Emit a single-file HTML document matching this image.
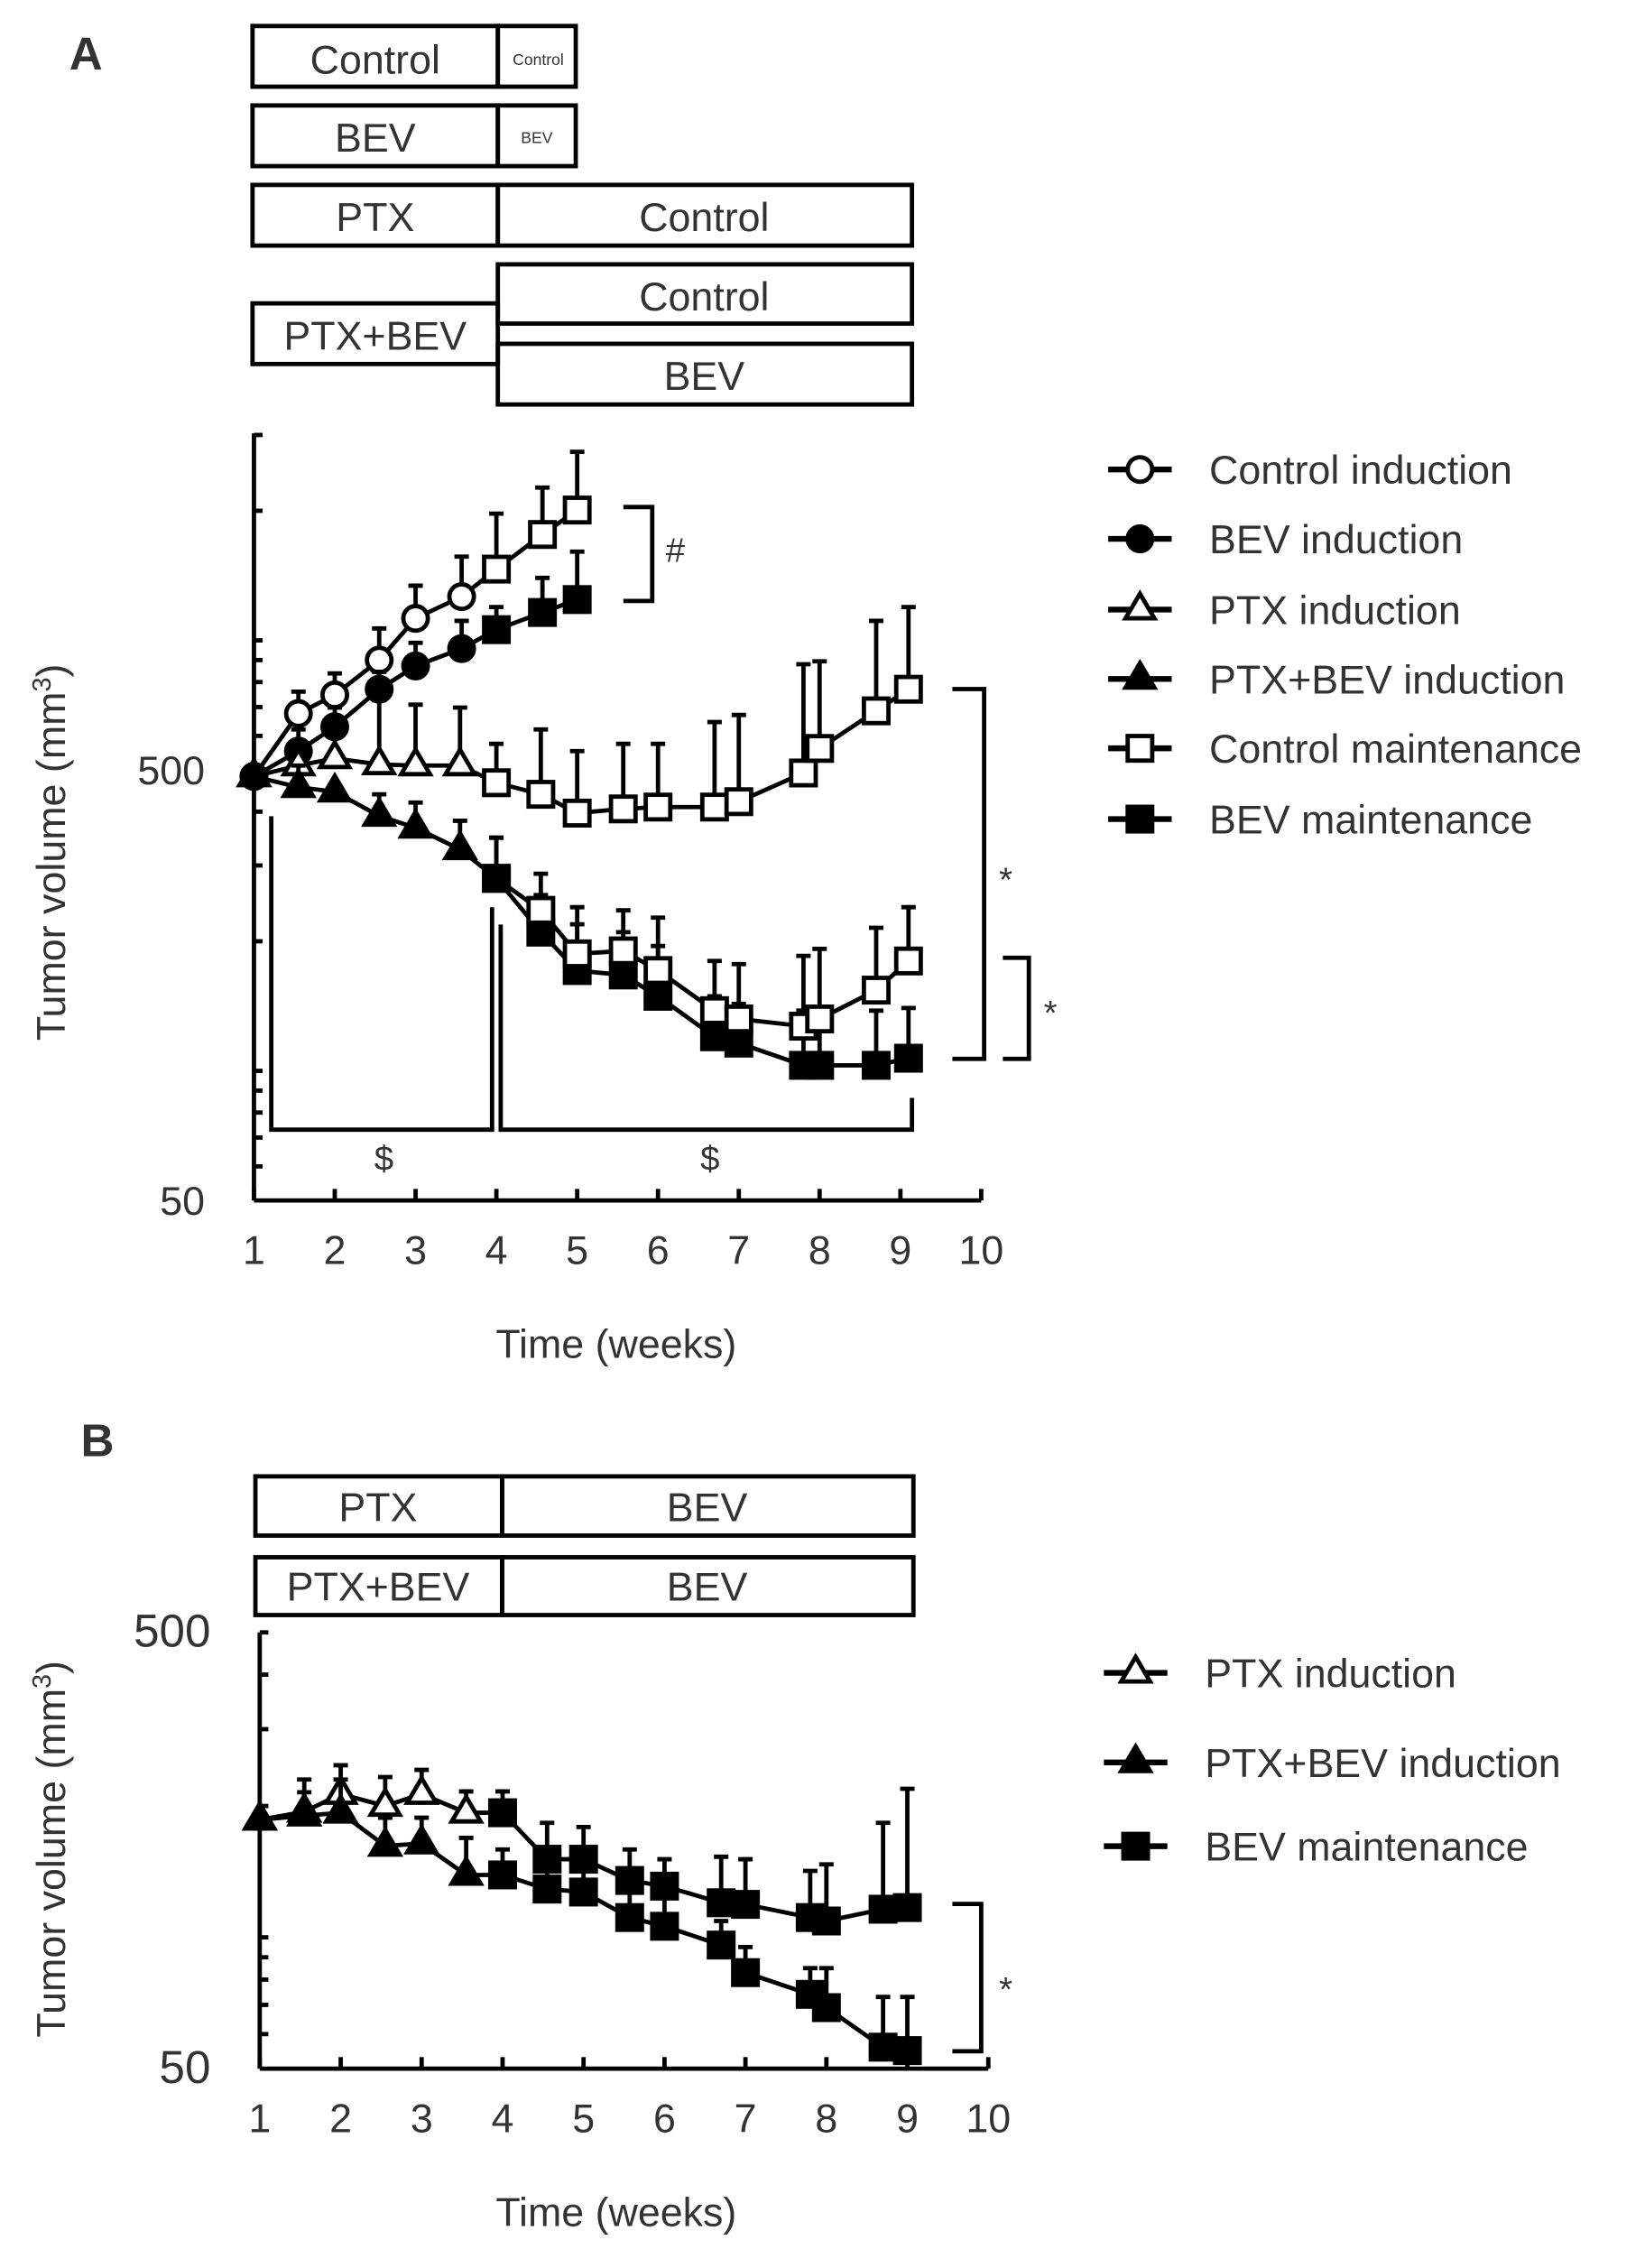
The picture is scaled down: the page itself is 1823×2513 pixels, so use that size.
<!DOCTYPE html>
<html><head><meta charset="utf-8"><style>
html,body{margin:0;padding:0;background:#fff;}
svg{display:block;}
text{font-family:"Liberation Sans",sans-serif;fill:#333;}
</style></head><body>
<svg id="fig" width="1823" height="2513" viewBox="0 0 1140 1570" preserveAspectRatio="none" xmlns="http://www.w3.org/2000/svg">
<g stroke="#000" stroke-width="3" fill="none">
<rect x="175" y="18" width="170" height="42"/><rect x="345" y="18" width="54" height="42"/>
<rect x="175" y="73" width="170" height="42"/><rect x="345" y="73" width="54" height="42"/>
<rect x="175" y="128" width="170" height="42"/><rect x="345" y="128" width="287" height="42"/>
<rect x="345" y="183" width="287" height="41"/><rect x="175" y="210" width="170" height="42"/>
<rect x="345" y="238" width="287" height="42"/>
</g>
<g font-size="28" text-anchor="middle">
<text x="260" y="51">Control</text><text x="373" y="45" font-size="11">Control</text>
<text x="260" y="105">BEV</text><text x="372" y="99" font-size="11">BEV</text>
<text x="260" y="160">PTX</text><text x="488" y="160">Control</text>
<text x="488" y="215">Control</text><text x="260" y="242">PTX+BEV</text>
<text x="488" y="270">BEV</text>
</g>
<text x="48" y="48" font-size="32" font-weight="bold">A</text>
<text x="56" y="1008" font-size="32" font-weight="bold">B</text>
<g stroke="#000" stroke-width="3" fill="none">
<rect x="177" y="1022" width="171" height="41"/><rect x="348" y="1022" width="285" height="41"/>
<rect x="177" y="1078" width="171" height="40"/><rect x="348" y="1078" width="285" height="40"/>
</g>
<g font-size="28" text-anchor="middle">
<text x="262" y="1053">PTX</text><text x="490" y="1053">BEV</text>
<text x="262" y="1108">PTX+BEV</text><text x="490" y="1108">BEV</text>
</g>
<g id="chartA"></g><g id="chartB"></g>
</svg>
<script>
// ---- Panel A data ----
const aCtrlIndX=[1,1.55,2,2.55,3,3.57,4,4.57,5];
const aCtrlIndV=[483,676,747,900,1125,1264,1464,1762,2008];
const aCtrlIndUp=[null,760,838,1066,1340,1565,1970,2264,2742];
const aCtrlIndM=['oc','oc','oc','oc','oc','oc','os','os','os'];
const aBevIndX=[1,1.55,2,2.55,3,3.57,4,4.57,5];
const aBevIndV=[483,553,630,770,872,957,1059,1161,1244];
const aBevIndUp=[null,621,698,845,987,1110,1195,1397,1607];
const aBevIndM=['fc','fc','fc','fc','fc','fc','fs','fs','fs'];
const aPtxIndX=[1,1.55,2,2.55,3,3.55,4,4.55,5,5.57,6,6.7,7,7.8,8,8.7,9.1];
const aPtxIndV=[483,512,532,515,512,512,467,439,397,406,410,410,422,492,561,686,770];
const aPtxIndUp=[null,575,646,726,709,698,575,621,553,575,575,646,671,880,894,1110,1195];
const aPtxIndM=['ot','ot','ot','ot','ot','ot','os','os','os','os','os','os','os','os','os','os','os'];
const aPbIndX=[1,1.55,2,2.55,3,3.55,4,4.55,5,5.57,6,6.7,7,7.8,8,8.7,9.1];
const aPbIndV=[483,456,445,391,367,327,280,236,187,190,171,138,132,127,132,154,180];
const aPbIndUp=[null,512,null,439,420,381,348,287,240,236,227,180,177,185,192,215,240];
const aPbIndM=['ft','ft','ft','ft','ft','ft','fs','os','os','os','os','os','os','os','os','os','os'];
const aBevMX=[4,4.55,5,5.57,6,6.7,7,7.8,8,8.7,9.1];
const aBevMV=[280,210,171,167,149,120,116,103,103,103,107];
const aBevMUp=[348,256,219,210,195,149,143,138,138,138,140];
const aBevMM=['fs','fs','fs','fs','fs','fs','fs','fs','fs','fs','fs'];
const xTicks=[1,2,3,4,5,6,7,8,9,10];
const aLegend=['Control induction','BEV induction','PTX induction','PTX+BEV induction','Control maintenance','BEV maintenance'];
const aLegendM=['oc','fc','ot','ft','os','fs'];
// ---- Panel B data ----
const bPtxX=[1,1.55,2,2.55,3,3.55,4,4.55,5,5.57,6,6.7,7,7.8,8,8.7,9];
const bPtxV=[186,194,213,200,213,193,193,151,151,135,131,120,119,111,109,116,117];
const bPtxUp=[null,230,248,233,242,216,216,183,179,159,151,153,151,142,147,183,219];
const bPtxM=['ot','ot','ot','ot','ot','ot','fs','fs','fs','fs','fs','fs','fs','fs','fs','fs','fs'];
const bPbX=[1,1.55,2,2.55,3,3.55,4,4.55,5,5.57,6,6.7,7,7.8,8,8.7,9];
const bPbV=[186,190,193,162,164,139,139,129,127,111,106,96,83,74,69,56,55];
const bPbUp=[null,215,230,188,188,169,159,147,142,132,125,109,95,85,85,73,73];
const bPbM=['ft','ft','ft','ft','ft','ft','fs','fs','fs','fs','fs','fs','fs','fs','fs','fs','fs'];
const bLegend=['PTX induction','PTX+BEV induction','BEV maintenance'];
const bLegendM=['ot','ft','fs'];

const NS='http://www.w3.org/2000/svg';
function mk(parent,tag,attrs,txt){const e=document.createElementNS(NS,tag);for(const k in attrs)e.setAttribute(k,attrs[k]);if(txt!==undefined)e.textContent=txt;parent.appendChild(e);return e;}
function marker(g,type,x,y){
  const fill=type[0]==='f'?'#000':'#fff';const s=type[1];let e;
  if(s==='c')e=mk(g,'circle',{cx:x,cy:y,r:8.5,fill:fill,stroke:'#000','stroke-width':3});
  else if(s==='s')e=mk(g,'rect',{x:x-8.5,y:y-8.5,width:17,height:17,fill:fill,stroke:'#000','stroke-width':3});
  else e=mk(g,'polygon',{points:`${x},${y-11} ${x-10},${y+6} ${x+10},${y+6}`,fill:fill,stroke:'#000','stroke-width':3});
  
  
}
function panel(root,P,seriesList,legend,legendM,legendY,names){
  const X=w=>P.x0+(w-1)*P.dx;
  const Y=v=>P.y50-(Math.log10(v)-Math.log10(50))*P.dec;
  const ax=mk(root,'g',{stroke:'#000','stroke-width':3,fill:'none'});
  
  
  mk(ax,'line',{x1:P.x0,y1:P.yTop,x2:P.x0,y2:P.y50});
  mk(ax,'line',{x1:P.x0,y1:P.y50,x2:X(10),y2:P.y50});
  xTicks.forEach(t=>{mk(ax,'line',{x1:X(t),y1:P.y50,x2:X(t),y2:P.y50-8});
    const tl=mk(root,'text',{x:X(t),y:P.y50+44,'font-size':28,'text-anchor':'middle'},String(t));
    
    });
  [60,70,80,90,100,200,300,400,500,600,700,800,900,1000,2000,3000].forEach(v=>{const y=Y(v);if(y>=P.yTop-1)mk(ax,'line',{x1:P.x0,y1:y,x2:P.x0+6,y2:y});});
  P.yLabels.forEach(v=>{const t=mk(root,'text',{x:P.x0-34,y:Y(v)+10,'font-size':P.ylfs,'text-anchor':'end'},String(v));
    
    });
  const yt=mk(root,'text',{x:0,y:0,'font-size':28,'text-anchor':'middle',transform:`translate(45,${P.yMid}) rotate(-90)`});
  
  
  yt.innerHTML='Tumor volume (mm<tspan dy="-10" font-size="18">3</tspan><tspan dy="10">)</tspan>';
  const xt=mk(root,'text',{x:427,y:P.y50+109,'font-size':28,'text-anchor':'middle'},'Time (weeks)');
  
  
  seriesList.forEach((s,i)=>{
    const g=mk(root,'g',{});
    
    
    s.x.forEach((w,j)=>{if(s.up[j]!=null){const x=X(w);mk(g,'line',{x1:x,y1:Y(s.v[j]),x2:x,y2:Y(s.up[j]),stroke:'#000','stroke-width':3});mk(g,'line',{x1:x-5,y1:Y(s.up[j]),x2:x+5,y2:Y(s.up[j]),stroke:'#000','stroke-width':3});}});
    mk(g,'polyline',{points:s.x.map((w,j)=>X(w)+','+Y(s.v[j])).join(' '),fill:'none',stroke:'#000','stroke-width':3});
    s.x.forEach((w,j)=>marker(g,s.m[j],X(w),Y(s.v[j])));
  });
  legend.forEach((l,i)=>{const g=mk(root,'g',{});
    
    
    const y=legendY[i];mk(g,'line',{x1:P.lx-22,y1:y,x2:P.lx+22,y2:y,stroke:'#000','stroke-width':4});
    marker(g,legendM[i],P.lx,y);mk(g,'text',{x:P.lx+48,y:y+10,'font-size':28},l);});
}
const A=document.getElementById('chartA');
panel(A,{x0:176,dx:56,y50:831,dec:298,yTop:300,yLabels:[500,50],ylfs:28,yMid:590,lx:790},
 [{x:aCtrlIndX,v:aCtrlIndV,up:aCtrlIndUp,m:aCtrlIndM},{x:aBevIndX,v:aBevIndV,up:aBevIndUp,m:aBevIndM},
  {x:aPtxIndX,v:aPtxIndV,up:aPtxIndUp,m:aPtxIndM},{x:aBevMX,v:aBevMV,up:aBevMUp,m:aBevMM},{x:aPbIndX,v:aPbIndV,up:aPbIndUp,m:aPbIndM}],
 aLegend,aLegendM,[325,373,422,470,518,567],
 ['series-control-induction','series-bev-induction','series-ptx-induction','series-bev-maintenance','series-ptxbev-induction']);
const B=document.getElementById('chartB');
panel(B,{x0:180,dx:56.1,y50:1432,dec:302,yTop:1130,yLabels:[500,50],ylfs:32,yMid:1280,lx:787},
 [{x:bPtxX,v:bPtxV,up:bPtxUp,m:bPtxM},{x:bPbX,v:bPbV,up:bPbUp,m:bPbM}],
 bLegend,bLegendM,[1158,1220,1278],['series-ptx-induction-b','series-ptxbev-induction-b']);
// annotations
const ann=mk(document.getElementById('fig'),'g',{fill:'none',stroke:'#000','stroke-width':3});


mk(ann,'polyline',{points:'432,351 452,351 452,416 432,416'});
mk(ann,'polyline',{points:'660,477 682,477 682,733 660,733'});
mk(ann,'polyline',{points:'695,663 713,663 713,733 695,733'});
mk(ann,'polyline',{points:'188,565 188,782 341,782 341,628'});
mk(ann,'polyline',{points:'347,640 347,782 632,782 632,760'});
mk(ann,'polyline',{points:'660,1318 680,1318 680,1420 660,1420'});
const fig=document.getElementById('fig');
[['#',468,389],['*',697,617],['*',728,709],['$',266,810],['$',492,810],['*',697,1385]].forEach(a=>{
 const t=mk(fig,'text',{x:a[1],y:a[2],'font-size':24,'text-anchor':'middle',fill:'#444'},a[0]);
 
 });
</script>
</body></html>
